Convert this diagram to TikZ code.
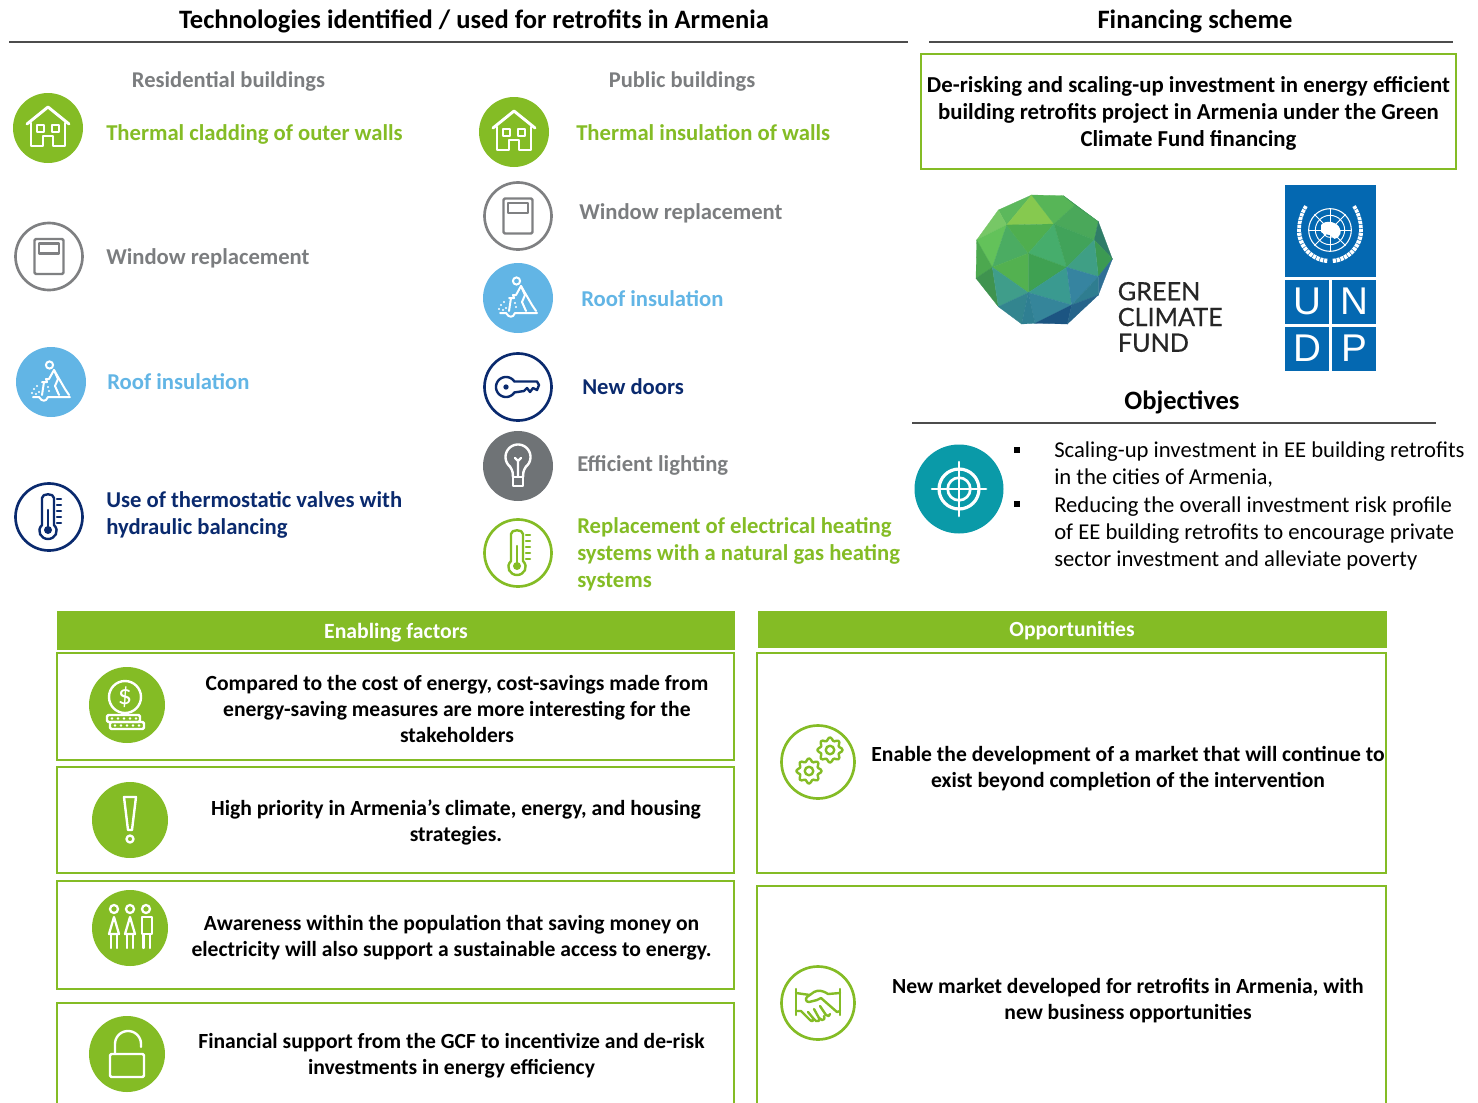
\documentclass[tikz,border=0pt]{standalone}
\usepackage{fontspec}
\setmainfont{Carlito}
\newfontfamily\gcffont[FakeBold=0.5]{Lato}
\newfontfamily\undpfont{Liberation Sans}
\definecolor{lime}{HTML}{84BC25}
\definecolor{sky}{HTML}{62B5E5}
\definecolor{navy}{HTML}{0A2A6E}
\definecolor{ashy}{HTML}{7F8082}
\definecolor{txgray}{HTML}{7B7D7F}
\definecolor{bulbgray}{HTML}{6F7376}
\definecolor{teal}{HTML}{0A9AA8}
\definecolor{undpblue}{HTML}{0468B1}
\newcommand{\facet}[2]{\definecolor{fc}{HTML}{#1}\fill[fc,draw=fc,line width=0.2pt] #2 --cycle;}
\tikzset{
 x=0.75pt,y=-0.75pt,
 ibase/.style={line width=1.8pt,line cap=round,line join=round},
 disc/.style={circle,inner sep=0,minimum size=#1*0.75pt,draw=none},
 ring/.style={circle,inner sep=0,minimum size=#1*0.75pt,line width=2pt,fill=white},
 lbl/.style={anchor=west,inner sep=0,align=left,font=\fontsize{17}{20.4}\selectfont\bfseries},
 head/.style={anchor=center,inner sep=0,font=\fontsize{16.9}{20}\selectfont\bfseries,text=txgray},
 title/.style={anchor=center,inner sep=0,font=\fontsize{19.9}{22}\selectfont\bfseries},
 body/.style={anchor=center,inner sep=0,align=center,font=\fontsize{16.2}{19.5}\selectfont\bfseries},
 panel/.style={draw=lime,line width=1.3pt,fill=none},
 band/.style={fill=lime,draw=none},
 pics/houseic/.style={code={
  \begin{scope}[ibase,color=#1]
  \draw[line width=2.2pt] (-21,-4)--(0,-21)--(21,-4);
  \draw (-17,-5)--(-17,18)--(-5,18)--(-5,8)--(5,8)--(5,18)--(17,18)--(17,-5);
  \draw (-11,-3) rectangle (-4,4);
  \draw (4,-3) rectangle (11,4);
  \end{scope}}},
 pics/windowic/.style={code={
  \begin{scope}[ibase,color=#1]
  \draw[rounded corners=1pt] (-14.5,-17.5) rectangle (14.5,17.5);
  \draw (-10,-13) rectangle (10,-3);
  \end{scope}}},
 pics/digic/.style={code={
  \begin{scope}[ibase,color=#1,line width=1.5pt]
  \draw (-1.5,-17) circle (2.7pt);
  \draw (-9,0)--(-4,0)--(-5,-3)--(-2,-3)--(3,-12)--(14,7)--(18,13);
  \draw (3,-12)--(7,-3)--(4,4)--(8,13);
  \draw (-7,0)--(-9,13);
  \draw (-18,15)--(-12,15)..controls (-9,20) and (-5,20)..(-3,15)--(19,15);
  \end{scope}
  \foreach \a/\b in {-17/7,-14/4,-12/10,-19/11,-3/5,-2/9,-15/12}{\fill[#1] (\a,\b) circle (0.9pt);}
  }},
 pics/thermoic/.style={code={
  \begin{scope}[ibase,color=#1]
  \draw (-7,8)--(-7,-19)..controls (-7,-24) and (5,-24)..(5,-19)--(5,8)
    ..controls (11,14) and (6,22)..(-1,22)..controls (-8,22) and (-13,14)..(-7,8)--cycle;
  \draw (-1,-7)--(-1,12);
  \fill (-1,13) circle (3pt);
  \foreach \t in {-18,-12,-6,0,6}{\draw (8,\t)--(12,\t);}
  \end{scope}}},
 pics/keyic/.style={code={
  \begin{scope}[ibase,color=#1]
  \draw plot[domain=-35:-325,samples=40] ({-12+10*cos(\x)},{10*sin(\x)});
  \draw (-4,-5.5)--(19,-5.5)--(21,-2)--(19,3)--(15,1)--(12,5)--(9,1)--(6,4)--(-4,5.5);
  \fill (-12,0) circle (2pt);
  \end{scope}}},
 pics/bulbic/.style={code={
  \begin{scope}[ibase,color=#1]
  \draw plot[domain=130:410,samples=40] ({12.5*cos(\x)},{-9+12.5*sin(\x)});
  \draw (-8,0.5)..controls (-5,5) and (-5,8)..(-5,11);
  \draw (8,0.5)..controls (5,5) and (5,8)..(5,11);
  \draw (-5,11) rectangle (5,20);
  \draw (0,11)--(0,-5)--(-3,-8);
  \draw (0,-5)--(3,-8);
  \end{scope}}},
 pics/targetic/.style={code={
  \begin{scope}[color=#1,line cap=round]
  \draw[line width=2.4pt] (0,0) circle (15pt);
  \draw[line width=2pt] (0,0) circle (8.5pt);
  \draw[line width=2pt] (-27,0)--(27,0);
  \draw[line width=2pt] (0,-27)--(0,27);
  \end{scope}}},
 pics/coinic/.style={code={
  \begin{scope}[ibase,color=#1]
  \draw (-2,-8) circle (12pt);
  \node[inner sep=0,font=\fontsize{21}{21}\selectfont,text=#1] (dollarsign) at (-2,-8) {\$};
  \draw[rounded corners=1pt] (-20,10) rectangle (13,17);
  \draw[rounded corners=1pt] (-17,17) rectangle (17,24);
  \foreach \a in {-15,-9,-3,3,9}{\fill (\a,13.5) circle (1pt);}
  \foreach \a in {-12,-6,0,6,12}{\fill (\a,20.5) circle (1pt);}
  \end{scope}}},
 pics/bangic/.style={code={
  \begin{scope}[ibase,color=#1]
  \draw (-6,-23)--(6,-23)--(2,10)--(-2,10)--cycle;
  \draw (0,19) circle (2.6pt);
  \end{scope}}},
 pics/peopleic/.style={code={
  \begin{scope}[ibase,color=#1,line width=1.7pt]
  \foreach \a in {-16,0,16}{\draw (\a,-19) circle (3pt);}
  \foreach \a in {-16,0}{
   \draw (\a,-11)--(\a-5,6)--(\a+5,6)--cycle;
   \draw (\a-3,6)--(\a-3,20);
   \draw (\a+3,6)--(\a+3,20);}
  \draw (12,-11) rectangle (22,6);
  \draw (13.5,6)--(13.5,20);
  \draw (20,6)--(20,20);
  \end{scope}}},
 pics/lockic/.style={code={
  \begin{scope}[ibase,color=#1]
  \draw[rounded corners=1pt] (-17,0) rectangle (17,23);
  \draw (-12,0)--(-12,-10) plot[domain=180:360,samples=25] ({13*cos(\x)+1},{-10+13*sin(\x)})--(14,-7);
  \end{scope}}},
 pics/gearsic/.style={code={
  \begin{scope}[ibase,color=#1]
  \foreach \cx/\cy in {12/-12,-9/9}{
   \draw plot[smooth cycle,domain=0:352,samples=45] ({\cx+(11+1.6*cos(8*\x))*cos(\x)},{\cy+(11+1.6*cos(8*\x))*sin(\x)});
   \draw (\cx,\cy) circle (3.2pt);}
  \end{scope}}},
 pics/shakeic/.style={code={
  \begin{scope}[ibase,color=#1]
  \draw (-22,-14)--(-22,12);
  \draw (22,-14)--(22,12);
  \draw (-22,-10)--(-8,-8);
  \draw (22,-10)--(10,-9)..controls (4,-13) and (0,-13)..(-4,-11)--(-11,-6)..controls (-13,-4) and (-12,-1)..(-9,-1)--(-1,-3)--(3,-5);
  \draw (3,-5)--(19,9)--(22,8);
  \draw (-22,8)--(-17,8)--(-8,17)..controls (-6,19) and (-4,18)..(-5,15);
  \draw (-5,15)--(-2,18)..controls (0,19) and (2,18)..(1,15);
  \draw (-10,9)--(-5,15);
  \draw (-4,6)--(1,15)--(4,17)..controls (6,17) and (7,16)..(6,13);
  \draw (2,3)--(8,12)..controls (10,14) and (12,13)..(12,11);
  \end{scope}}},
}
\begin{document}
\begin{tikzpicture}
\useasboundingbox (0,0) rectangle (1478,1103);
% ---- rules and titles
\coordinate (r1a) at (9,42); \coordinate (r1b) at (908,42);
\coordinate (r2a) at (929,42); \coordinate (r2b) at (1453,42);
\coordinate (r3a) at (912,423); \coordinate (r3b) at (1436,423);
\draw[line width=1pt,black!70] (r1a)--(r1b);
\draw[line width=1pt,black!70] (r2a)--(r2b);
\draw[line width=1pt,black!70] (r3a)--(r3b);
\node[title] (ttech) at (474,21.5) {Technologies identified / used for retrofits in Armenia};
\node[title] (tfin) at (1195,21.5) {Financing scheme};
\node[title] (tobj) at (1182,402) {Objectives};
\node[head] (hres) at (228.5,81) {Residential buildings};
\node[head] (hpub) at (682,82) {Public buildings};
% ---- left column
\node[disc=70,fill=lime] (ihouse1) at (48,128) {};
\pic at (ihouse1) {houseic=white};
\node[lbl,text=lime] (thouse1) at (106,134) {Thermal cladding of outer walls};
\node[ring=67,draw=ashy] (iwin1) at (49,256.5) {};
\pic at (iwin1) {windowic=ashy};
\node[lbl,text=txgray] (twin1) at (106,258) {Window replacement};
\node[disc=70,fill=sky] (idig1) at (51,382) {};
\pic at (idig1) {digic=white};
\node[lbl,text=sky] (tdig1) at (107,382) {Roof insulation};
\node[ring=67,draw=navy] (ithermo1) at (49,517) {};
\pic at (ithermo1) {thermoic=navy};
\node[lbl,text=navy] (tthermo1) at (106,515) {Use of thermostatic valves with\\hydraulic balancing};
% ---- middle column
\node[disc=70,fill=lime] (ihouse2) at (514,132) {};
\pic at (ihouse2) {houseic=white};
\node[lbl,text=lime] (thouse2) at (576,133) {Thermal insulation of walls};
\node[ring=67,draw=ashy] (iwin2) at (518,216) {};
\pic at (iwin2) {windowic=ashy};
\node[lbl,text=txgray] (twin2) at (579,213) {Window replacement};
\node[disc=70,fill=sky] (idig2) at (518,298) {};
\pic at (idig2) {digic=white};
\node[lbl,text=sky] (tdig2) at (581,299) {Roof insulation};
\node[ring=67,draw=navy] (ikey) at (518,387) {};
\pic at (ikey) {keyic=navy};
\node[lbl,text=navy] (tkey) at (582,386.5) {New doors};
\node[disc=70,fill=bulbgray] (ibulb) at (518,466) {};
\pic at (ibulb) {bulbic=white};
\node[lbl,text=txgray] (tbulb) at (577,465) {Efficient lighting};
\node[ring=67,draw=lime] (ithermo2) at (518,553) {};
\pic at (ithermo2) {thermoic=lime};
\node[lbl,text=lime] (tthermo2) at (577,554.5) {Replacement of electrical heating\\systems with a natural gas heating\\systems};
% ---- financing box
\node[draw=lime,line width=1.3pt,inner sep=0,minimum width=535*0.75pt,minimum height=115*0.75pt] (fbox) at (1188.5,111.5) {};
\node[inner sep=0,align=center,font=\fontsize{17.1}{20.25}\selectfont\bfseries] (tfbox) at (1188.5,113)
  {De-risking and scaling-up investment in energy efficient\\building retrofits project in Armenia under the Green\\Climate Fund financing};
% ---- GCF logo
\begin{scope}[x=0.25pt,y=-0.25pt,shift={(2880,540)}]
 \facet{5CB85C}{(215,45)--(115,90)--(140,135)}
 \facet{86C94F}{(215,45)--(282,132)--(140,135)}
 \facet{57B557}{(215,45)--(310,47)--(345,75)--(282,132)}
 \facet{4AA85A}{(345,75)--(415,125)--(403,180)--(282,132)}
 \facet{3F9C58}{(310,47)--(415,125)--(345,75)}
 \facet{77C766}{(115,90)--(50,180)--(140,135)}
 \facet{63C25A}{(50,180)--(97,262)--(140,135)}
 \facet{4BAC62}{(140,135)--(205,220)--(97,262)}
 \facet{4FAE4F}{(140,135)--(282,132)--(205,220)}
 \facet{46AD6C}{(282,132)--(320,262)--(205,220)}
 \facet{41A35A}{(282,132)--(403,180)--(320,262)}
 \facet{2F7D68}{(403,180)--(415,125)--(457,237)}
 \facet{3C9A52}{(403,180)--(457,237)--(415,290)}
 \facet{3F9F85}{(403,180)--(415,290)--(320,262)}
 \facet{4CA84F}{(50,180)--(48,295)--(97,262)}
 \facet{53B150}{(97,262)--(205,220)--(205,338)}
 \facet{3FA152}{(205,220)--(320,262)--(205,338)}
 \facet{3F934F}{(48,295)--(97,262)--(115,380)}
 \facet{3F9D8A}{(97,262)--(205,338)--(115,380)}
 \facet{3A9A90}{(205,338)--(320,262)--(335,375)}
 \facet{3684A0}{(320,262)--(415,290)--(335,375)}
 \facet{2F6F95}{(415,290)--(457,237)--(415,345)}
 \facet{2F7D90}{(415,290)--(415,345)--(335,375)}
 \facet{33858F}{(115,380)--(205,338)--(185,432)}
 \facet{35859A}{(205,338)--(335,375)--(225,430)}
 \facet{2F7F92}{(185,432)--(205,338)--(225,430)}
 \facet{1C5582}{(225,430)--(335,375)--(322,432)}
 \facet{26648A}{(335,375)--(415,345)--(322,432)}
\end{scope}
\node[anchor=west,inner sep=0,align=left,text=black!85,font=\gcffont\fontsize{18.9}{19.3}\selectfont] (tgcf) at (1117.5,317) {GREEN\\CLIMATE\\FUND};
% ---- UNDP logo
\fill[undpblue] (1285,185) rectangle (1376,276.7);
\node[anchor=center,fill=undpblue,text=white,inner sep=0,minimum size=44*0.75pt,font=\undpfont\fontsize{29}{29}\selectfont] (lu) at (1307,301.5) {U};
\node[anchor=center,fill=undpblue,text=white,inner sep=0,minimum size=44*0.75pt,font=\undpfont\fontsize{29}{29}\selectfont] (ln) at (1354,301.5) {N};
\node[anchor=center,fill=undpblue,text=white,inner sep=0,minimum size=44*0.75pt,font=\undpfont\fontsize{29}{29}\selectfont] (ld) at (1307,348.5) {D};
\node[anchor=center,fill=undpblue,text=white,inner sep=0,minimum size=44*0.75pt,font=\undpfont\fontsize{29}{29}\selectfont] (lp) at (1354,348.5) {P};
\begin{scope}[shift={(1330,230)},white]
 \draw[line width=0.8pt] (0,0) circle (16pt);
 \draw[line width=0.7pt] (0,0) circle (11pt);
 \draw[line width=0.7pt] (0,0) circle (5.5pt);
 \foreach \a in {0,45,90,135}{\draw[line width=0.6pt] ({22*cos(\a)},{22*sin(\a)})--({-22*cos(\a)},{-22*sin(\a)});}
 \fill (-9,-5)..controls (-4,-11) and (8,-8)..(10,-1)..controls (13,6) and (4,12)..(2,7)..controls (0,3) and (-5,6)..(-9,2)--cycle;
 \draw[line width=3.2pt,dash pattern=on 2.4pt off 0.6pt] plot[domain=175:95,samples=20] ({31*cos(\x)},{31*sin(\x)});
 \draw[line width=3.2pt,dash pattern=on 2.4pt off 0.6pt] plot[domain=5:85,samples=20] ({31*cos(\x)},{31*sin(\x)});
 \draw[line width=2.8pt,dash pattern=on 2.4pt off 0.6pt] (-31,2)..controls (-31,-6) and (-30,-14)..(-24,-24);
 \draw[line width=2.8pt,dash pattern=on 2.4pt off 0.6pt] (31,2)..controls (31,-6) and (30,-14)..(24,-24);
\end{scope}
% ---- objectives
\node[disc=89,fill=teal] (itarget) at (959,489) {};
\pic at (itarget) {targetic=white};
\fill (1013.5,446.5) rectangle (1020,453);
\fill (1013.5,500.5) rectangle (1020,507);
\node[anchor=west,inner sep=0,align=left,font=\fontsize{17}{20.6}\selectfont] (tobjbody) at (1054,506)
 {Scaling-up investment in EE building retrofits\\in the cities of Armenia,\\Reducing the overall investment risk profile\\of EE building retrofits to encourage private\\sector investment and alleviate poverty};
% ---- enabling factors
\fill[band] (57,611) rectangle (735,650);
\node[anchor=center,inner sep=0,text=white,font=\fontsize{16.3}{18}\selectfont\bfseries] (tenable) at (396,633) {Enabling factors};
\draw[panel] (57,653) rectangle (734,760);
\draw[panel] (57,767) rectangle (734,873);
\draw[panel] (57,881) rectangle (734,989);
\draw[panel] (57,1103)--(57,1003)--(734,1003)--(734,1103);
\node[disc=76,fill=lime] (icoin) at (127,705) {};
\pic at (icoin) {coinic=white};
\node[body] (tcoin) at (457,709) {Compared to the cost of energy, cost-savings made from\\energy-saving measures are more interesting for the\\stakeholders};
\node[disc=76,fill=lime] (ibang) at (130,820) {};
\pic at (ibang) {bangic=white};
\node[body] (tbang) at (456,822) {High priority in Armenia’s climate, energy, and housing\\strategies.};
\node[disc=76,fill=lime] (ipeople) at (130,928) {};
\pic at (ipeople) {peopleic=white};
\node[body] (tpeople) at (451.5,938) {Awareness within the population that saving money on\\electricity will also support a sustainable access to energy.};
\node[disc=76,fill=lime] (ilock) at (127,1054) {};
\pic at (ilock) {lockic=white};
\node[body] (tlock) at (451.5,1056) {Financial support from the GCF to incentivize and de-risk\\investments in energy efficiency};
% ---- opportunities
\fill[band] (758,611) rectangle (1387,648);
\node[anchor=center,inner sep=0,text=white,font=\fontsize{16.2}{18}\selectfont\bfseries] (topp) at (1072,631) {Opportunities};
\draw[panel] (757,653) rectangle (1386,873);
\draw[panel] (757,1103)--(757,886)--(1386,886)--(1386,1103);
\node[ring=73,draw=lime] (igears) at (818,762) {};
\pic at (igears) {gearsic=lime};
\node[body] (tgears) at (1128,769) {Enable the development of a market that will continue to\\exist beyond completion of the intervention};
\node[ring=73,draw=lime] (ishake) at (818,1003) {};
\pic at (ishake) {shakeic=lime};
\node[body] (tshake) at (1128,1001) {New market developed for retrofits in Armenia, with\\new business opportunities};
\end{tikzpicture}
\end{document}
